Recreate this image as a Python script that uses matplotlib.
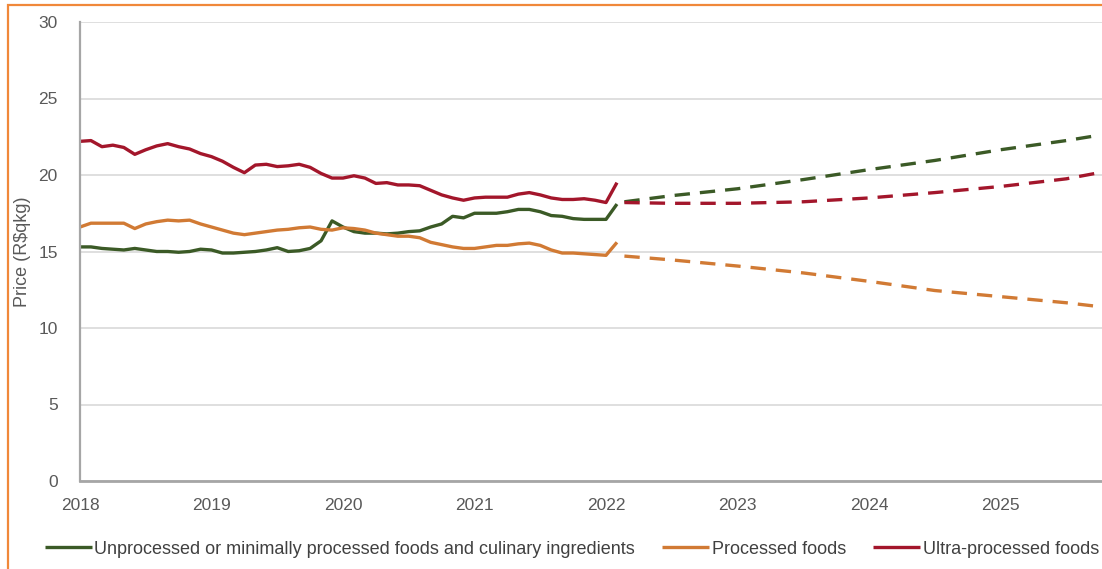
import numpy as np
import matplotlib.pyplot as plt
from matplotlib.patches import Rectangle

plt.rcParams['font.family'] = ['Liberation Sans Narrow', 'Liberation Sans', 'DejaVu Sans']

# monthly observations, Jan 2018 .. Feb 2022
months = 2018 + np.arange(50) / 12

unprocessed = [15.3, 15.3, 15.2, 15.15, 15.1, 15.2, 15.1, 15.0, 15.0, 14.95, 15.0, 15.15,
               15.1, 14.9, 14.9, 14.95, 15.0, 15.1, 15.25, 15.0, 15.05, 15.2, 15.7, 17.0,
               16.6, 16.3, 16.2, 16.2, 16.15, 16.2, 16.3, 16.35, 16.6, 16.8, 17.3, 17.2,
               17.5, 17.5, 17.5, 17.6, 17.75, 17.75, 17.6, 17.35, 17.3, 17.15, 17.1, 17.1,
               17.1, 18.1]
processed = [16.6, 16.85, 16.85, 16.85, 16.85, 16.5, 16.8, 16.95, 17.05, 17.0, 17.05, 16.8,
             16.6, 16.4, 16.2, 16.1, 16.2, 16.3, 16.4, 16.45, 16.55, 16.6, 16.45, 16.4,
             16.55, 16.5, 16.4, 16.2, 16.1, 16.0, 16.0, 15.9, 15.6, 15.45, 15.3, 15.2,
             15.2, 15.3, 15.4, 15.4, 15.5, 15.55, 15.4, 15.1, 14.9, 14.9, 14.85, 14.8,
             14.75, 15.6]
ultra = [22.2, 22.25, 21.85, 21.95, 21.8, 21.35, 21.65, 21.9, 22.05, 21.85, 21.7, 21.4,
         21.2, 20.9, 20.5, 20.15, 20.65, 20.7, 20.55, 20.6, 20.7, 20.5, 20.1, 19.8,
         19.8, 19.95, 19.8, 19.45, 19.5, 19.35, 19.35, 19.3, 19.0, 18.7, 18.5, 18.35,
         18.5, 18.55, 18.55, 18.55, 18.75, 18.85, 18.7, 18.5, 18.4, 18.4, 18.45, 18.35,
         18.2, 19.5]

# projections
proj_t = [2022.14, 2022.5, 2023.0, 2023.5, 2024.0, 2024.5, 2025.0, 2025.5, 2025.75]
unprocessed_proj = [18.25, 18.65, 19.1, 19.7, 20.35, 20.95, 21.65, 22.25, 22.6]
processed_proj = [14.7, 14.45, 14.05, 13.6, 13.05, 12.45, 12.05, 11.65, 11.4]
ultra_proj = [18.2, 18.15, 18.15, 18.25, 18.5, 18.85, 19.25, 19.75, 20.15]

labels = ['Unprocessed or minimally processed foods and culinary ingredients',
          'Processed foods', 'Ultra-processed foods']
colors = ['#3B5A26', '#D17A34', '#A3162B']
years = list(range(2018, 2026))

fig = plt.figure(figsize=(11.02, 5.69), dpi=100)
W, H = 1102, 569
ax = fig.add_axes([80 / W, (H - 481) / H, 1 - 80 / W, (481 - 22) / H])

for obs, proj, lab, c in zip([unprocessed, processed, ultra],
                             [unprocessed_proj, processed_proj, ultra_proj], labels, colors):
    ax.plot(months, obs, color=c, lw=2.4, label=lab, solid_capstyle='butt')
    ax.plot(proj_t, proj, color=c, lw=2.4, dashes=(4.6, 3))

ax.set_xlim(2018, 2018 + (W - 80) / 131.5)
ax.set_ylim(0, 30)
ax.set_yticks(range(0, 31, 5))
ax.set_xticks(years)
ax.set_xticklabels([str(y) for y in years])
ax.grid(axis='y', color='#D9D9D9', lw=1.2)
ax.set_axisbelow(True)
for s in ['top', 'right']:
    ax.spines[s].set_visible(False)
ax.spines['left'].set_color('#A6A6A6')
ax.spines['left'].set_linewidth(1.6)
ax.spines['bottom'].set_color('#A6A6A6')
ax.spines['bottom'].set_linewidth(2)
ax.tick_params(length=0, labelsize=12.5, colors='#595959')
ax.tick_params(axis='y', pad=16)
ax.tick_params(axis='x', pad=12)
ax.set_ylabel('Price (R$qkg)', fontsize=13, color='#595959', labelpad=5)

fig.legend(loc='center', bbox_to_anchor=(572 / W, 1 - 549 / H), ncol=3, frameon=False,
           fontsize=13, handlelength=2.6, handletextpad=0.15, columnspacing=1.5,
           labelcolor='#404040', borderaxespad=0, borderpad=0)

fig.patches.append(Rectangle((8 / W, -0.5), 1.5, 1.5 - 5 / H, transform=fig.transFigure,
                             fill=False, edgecolor='#F0883A', lw=1.6))

fig.savefig('out.png', dpi=100)
